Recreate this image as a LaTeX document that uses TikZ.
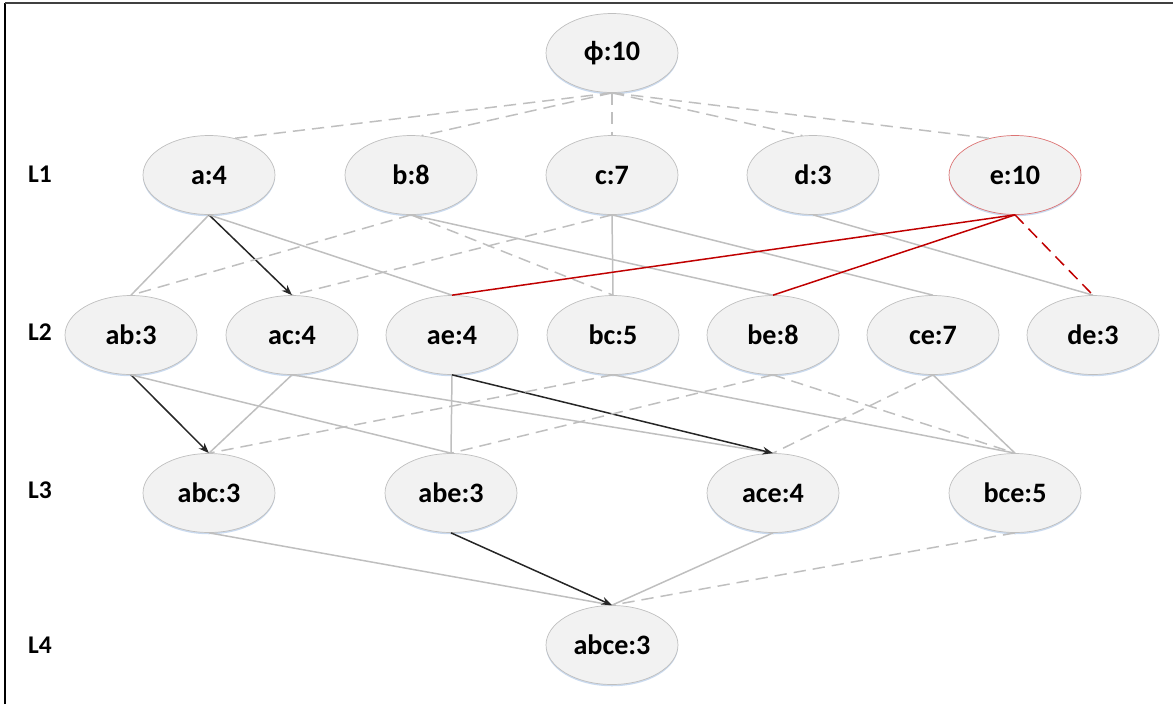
\documentclass[tikz,border=0pt]{standalone}
\usepackage{fontspec}
\setmainfont{Carlito}
\usetikzlibrary{shapes.geometric,arrows.meta,shadows}
\definecolor{setfill}{HTML}{F2F2F2}
\definecolor{setline}{HTML}{BFBFBF}
\definecolor{edgegray}{HTML}{BFBFBF}
\definecolor{hitred}{HTML}{C00000}
\definecolor{glow}{HTML}{B4CBE8}
\tikzset{
  itemset/.style={ellipse, draw=setline, fill=setfill, line width=0.4pt,
    minimum width=2.64cm, minimum height=1.58cm, inner sep=0pt,
    font=\fontsize{16}{18}\selectfont\bfseries,
    drop shadow={shadow xshift=0pt, shadow yshift=-1pt, fill=glow, opacity=0.7}},
  levelname/.style={font=\fontsize{14.5}{16}\selectfont\bfseries},
  sub/.style={draw=edgegray, line width=0.85pt},
  subdash/.style={sub, dash pattern=on 7pt off 4pt},
  trail/.style={draw=black!85, line width=0.85pt, -{Stealth[length=6pt,width=4.5pt]}},
  hit/.style={draw=hitred, line width=0.85pt},
  hitdash/.style={hit, dash pattern=on 7pt off 4pt}
}
\begin{document}
\begin{tikzpicture}[x=0.02cm,y=-0.02cm]
\useasboundingbox (0,0) rectangle (1173,704);
\draw[line width=1.1pt] (5,704) -- (5,3);
\draw[black!75, line width=0.8pt] (5,3) -- (1173,3);

\node[levelname] (l1) at (40,174) {L1};
\node[levelname] (l2) at (40,332) {L2};
\node[levelname] (l3) at (40,490) {L3};
\node[levelname] (l4) at (40,645) {L4};

\node[itemset] (phi) at (612,53) {ϕ:10};

\node[itemset] (a) at (209,175) {a:4};
\node[itemset] (b) at (411,175) {b:8};
\node[itemset] (c) at (612,175) {c:7};
\node[itemset] (d) at (813,175) {d:3};
\node[itemset, draw=hitred!55] (e) at (1015,175) {e:10};

\node[itemset] (ab) at (131,335) {ab:3};
\node[itemset] (ac) at (292,335) {ac:4};
\node[itemset] (ae) at (452,335) {ae:4};
\node[itemset] (bc) at (613,335) {bc:5};
\node[itemset] (be) at (773,335) {be:8};
\node[itemset] (ce) at (933,335) {ce:7};
\node[itemset] (de) at (1093,335) {de:3};

\node[itemset] (abc) at (209,493) {abc:3};
\node[itemset] (abe) at (451,493) {abe:3};
\node[itemset] (ace) at (773,493) {ace:4};
\node[itemset] (bce) at (1015,493) {bce:5};

\node[itemset] (abce) at (612,645) {abce:3};

\draw[subdash] (phi.south) -- (a.55);
\draw[subdash] (phi.south) -- (b.75);
\draw[subdash] (phi.south) -- (c.north);
\draw[subdash] (phi.south) -- (d.105);
\draw[subdash] (phi.south) -- (e.125);

\draw[sub] (a.south) -- (ab.north);
\draw[trail] (a.south) -- (ac.north);
\draw[sub] (a.south) -- (ae.north);
\draw[subdash] (b.south) -- (ab.north);
\draw[subdash] (b.south) -- (bc.north);
\draw[sub] (b.south) -- (be.north);
\draw[subdash] (c.south) -- (ac.north);
\draw[sub] (c.south) -- (bc.north);
\draw[sub] (c.south) -- (ce.north);
\draw[sub] (d.south) -- (de.north);
\draw[hit] (e.south) -- (ae.north);
\draw[hit] (e.south) -- (be.north);
\draw[hitdash] (e.south) -- (de.north);

\draw[trail] (ab.south) -- (abc.north);
\draw[sub] (ab.south) -- (abe.north);
\draw[sub] (ac.south) -- (abc.north);
\draw[sub] (ac.south) -- (ace.north);
\draw[sub] (ae.south) -- (abe.north);
\draw[trail] (ae.south) -- (ace.north);
\draw[subdash] (bc.south) -- (abc.north);
\draw[sub] (bc.south) -- (bce.north);
\draw[subdash] (be.south) -- (abe.north);
\draw[subdash] (be.south) -- (bce.north);
\draw[subdash] (ce.south) -- (ace.north);
\draw[sub] (ce.south) -- (bce.north);

\draw[sub] (abc.south) -- (abce.north);
\draw[trail] (abe.south) -- (abce.north);
\draw[sub] (ace.south) -- (abce.north);
\draw[subdash] (bce.south) -- (abce.north);
\end{tikzpicture}
\end{document}
